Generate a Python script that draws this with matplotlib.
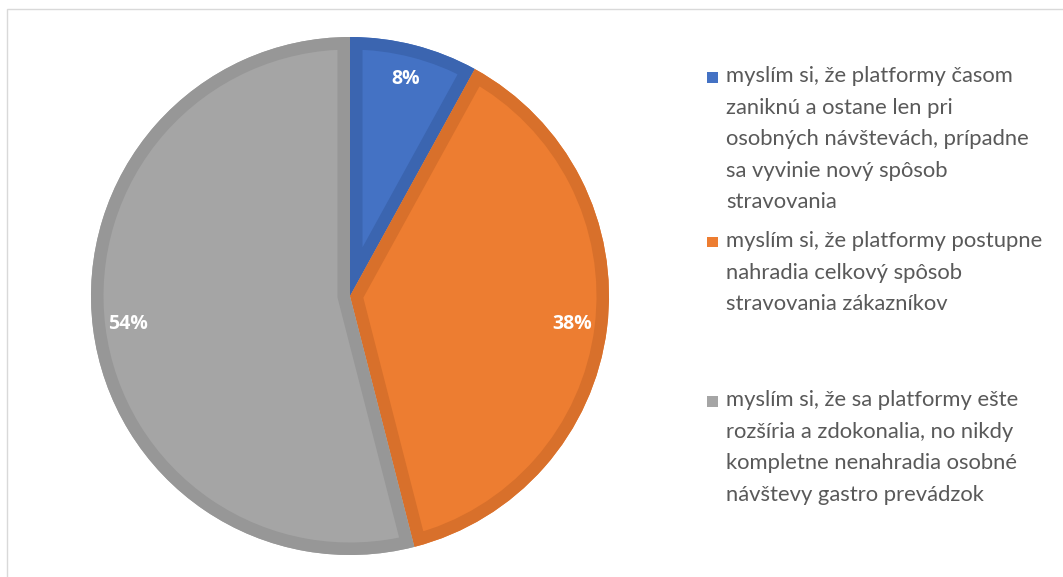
import matplotlib
matplotlib.use("Agg")
import matplotlib.pyplot as plt
from matplotlib.patches import Rectangle, Wedge

categories = [
    "myslím si, že platformy časom\nzaniknú a ostane len pri\nosobných návštevách, prípadne\nsa vyvinie nový spôsob\nstravovania",
    "myslím si, že platformy postupne\nnahradia celkový spôsob\nstravovania zákazníkov",
    "myslím si, že sa platformy ešte\nrozšíria a zdokonalia, no nikdy\nkompletne nenahradia osobné\nnávštevy gastro prevádzok",
]
values = [8, 38, 54]
fill_colors = ["#4472C4", "#ED7D31", "#A5A5A5"]
edge_colors = ["#3B65B0", "#D8702B", "#979797"]

W, H = 1063, 577
fig = plt.figure(figsize=(W / 100, H / 100), dpi=100)
fig.patch.set_facecolor("white")

# outer chart frame (left/top visible)
fig.add_artist(Rectangle((6.5 / W, -1), 2, 1 - 8.5 / H + 1, transform=fig.transFigure,
                         fill=False, edgecolor="#D9D9D9", linewidth=1.0))

cx, cy, r = 350, 296, 259
ax = fig.add_axes([(cx - r) / W, 1 - (cy + r) / H, 2 * r / W, 2 * r / H])
wedges, texts, autotexts = ax.pie(
    values, colors=fill_colors, startangle=90, counterclock=False,
    autopct=lambda p: f"{p:.0f}%", pctdistance=0.865, radius=1.0,
    textprops=dict(color="white", fontsize=14, fontweight="bold", family="Open Sans"),
    wedgeprops=dict(linewidth=0),
)
# inner darker border of each slice (stroke clipped to the slice)
for w, ec in zip(wedges, edge_colors):
    b = Wedge(w.center, w.r, w.theta1, w.theta2, facecolor="none", edgecolor=ec,
              linewidth=18, transform=ax.transData, zorder=w.get_zorder() + 0.5)
    ax.add_patch(b)
    b.set_clip_path(w.get_path(), w.get_transform())
for t in autotexts:
    t.set_zorder(5)
ax.set_xlim(-1, 1)
ax.set_ylim(-1, 1)
ax.set_aspect("equal")
ax.axis("off")

# legend entries
entry_tops = [77, 242, 401]
for lab, col, yt in zip(categories, fill_colors, entry_tops):
    fig.add_artist(Rectangle((707 / W, 1 - (yt + 5.5) / H), 10.5 / W, 10.5 / H,
                             transform=fig.transFigure, facecolor=col, edgecolor="none"))
    fig.text(726 / W, 1 - (yt - 11) / H, lab, ha="left", va="top", fontsize=15.8,
             family="Lato", color="#595959", linespacing=1.725)

fig.savefig("out.png", dpi=100)
